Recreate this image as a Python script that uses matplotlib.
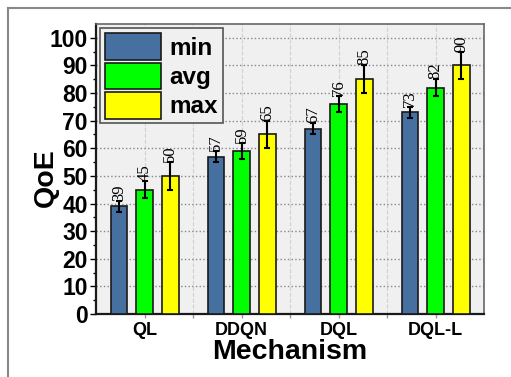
import matplotlib
matplotlib.use("Agg")
import matplotlib.pyplot as plt
from matplotlib.lines import Line2D
import numpy as np

mechanisms = ["QL", "DDQN", "DQL", "DQL-L"]
qoe_min = [39, 57, 67, 73]
qoe_avg = [45, 59, 76, 82]
qoe_max = [50, 65, 85, 90]
err_min = [2, 2, 2, 2]
err_avg = [3, 3, 3, 3]
err_max = [5, 5, 5, 5]

series = [
    ("min", qoe_min, err_min, "#4670a0"),
    ("avg", qoe_avg, err_avg, "#00ff00"),
    ("max", qoe_max, err_max, "#ffff00"),
]

fig = plt.figure(figsize=(5.11, 3.77), dpi=100)
ax = fig.add_axes([0.1879, 0.1671, 0.7593, 0.7692])
ax.set_facecolor("#f0f0f0")
ax.set_axisbelow(True)

x = np.arange(len(mechanisms))
width = 0.175
offset = 0.263

for i, (name, vals, errs, color) in enumerate(series):
    pos = x + (i - 1) * offset
    ax.bar(pos, vals, width, color=color, edgecolor="#1a1a1a", linewidth=1.2,
           label=name, zorder=3)
    ax.errorbar(pos, vals, yerr=errs, fmt="none", ecolor="black",
                elinewidth=1.5, capsize=2.5, capthick=1.5, zorder=4)
    for p, v, e in zip(pos, vals, errs):
        ax.text(p, v + e, str(v), rotation=90, ha="center", va="bottom",
                fontsize=12, family="Liberation Serif", zorder=5)

ax.set_xlim(-0.5, 3.5)
ax.set_ylim(0, 105)
ax.set_xticks(x)
ax.set_xticks([0.5, 1.5, 2.5], minor=True)
ax.set_xticklabels(mechanisms, fontsize=13, fontweight="bold",
                   family="Liberation Sans")
ax.set_yticks(np.arange(0, 101, 10))
ax.set_yticks(np.arange(5, 101, 10), minor=True)
ax.set_yticklabels([str(v) for v in range(0, 101, 10)], fontsize=16.5,
                   fontweight="bold", family="Liberation Sans")
ax.tick_params(axis="y", which="major", length=4, width=1, pad=2)
ax.tick_params(axis="y", which="minor", length=2.5, width=1)
ax.tick_params(axis="x", which="both", length=3, width=1, color="#999999", pad=3)

ax.grid(axis="y", which="major", linestyle=":", color="#888888", linewidth=1)
ax.grid(axis="x", which="both", linestyle="--", color="#d0d0d0", linewidth=0.8)

for side in ["left", "bottom"]:
    ax.spines[side].set_color("#1a1a1a")
    ax.spines[side].set_linewidth(1.6)
for side in ["top", "right"]:
    ax.spines[side].set_color("#666666")
    ax.spines[side].set_linewidth(1.2)

ax.set_xlabel("Mechanism", fontsize=20.5, fontweight="bold",
              family="Liberation Sans", labelpad=0)
ax.set_ylabel("QoE", fontsize=20.5, fontweight="bold",
              family="Liberation Sans")
ax.yaxis.set_label_coords(-0.097, 0.472)

leg = ax.legend(loc="upper left", prop={"family": "Liberation Sans",
                "weight": "bold", "size": 17.5},
                handlelength=2.3, handleheight=1.3, labelspacing=0.12,
                borderpad=0.2, handletextpad=0.35, borderaxespad=0.18,
                fancybox=False, framealpha=1)
leg.get_frame().set_facecolor("#f0f0f0")
leg.get_frame().set_edgecolor("#555555")
leg.get_frame().set_linewidth(1.2)

# outer frame lines (top and left)
W, H = 511, 377
fig.add_artist(Line2D([8 / W, 1], [1 - 7.5 / H, 1 - 7.5 / H],
                      transform=fig.transFigure, color="#888888", linewidth=1.5))
fig.add_artist(Line2D([8 / W, 8 / W], [0, 1 - 7.5 / H],
                      transform=fig.transFigure, color="#888888", linewidth=1.5))

fig.savefig("out.png", dpi=100)
